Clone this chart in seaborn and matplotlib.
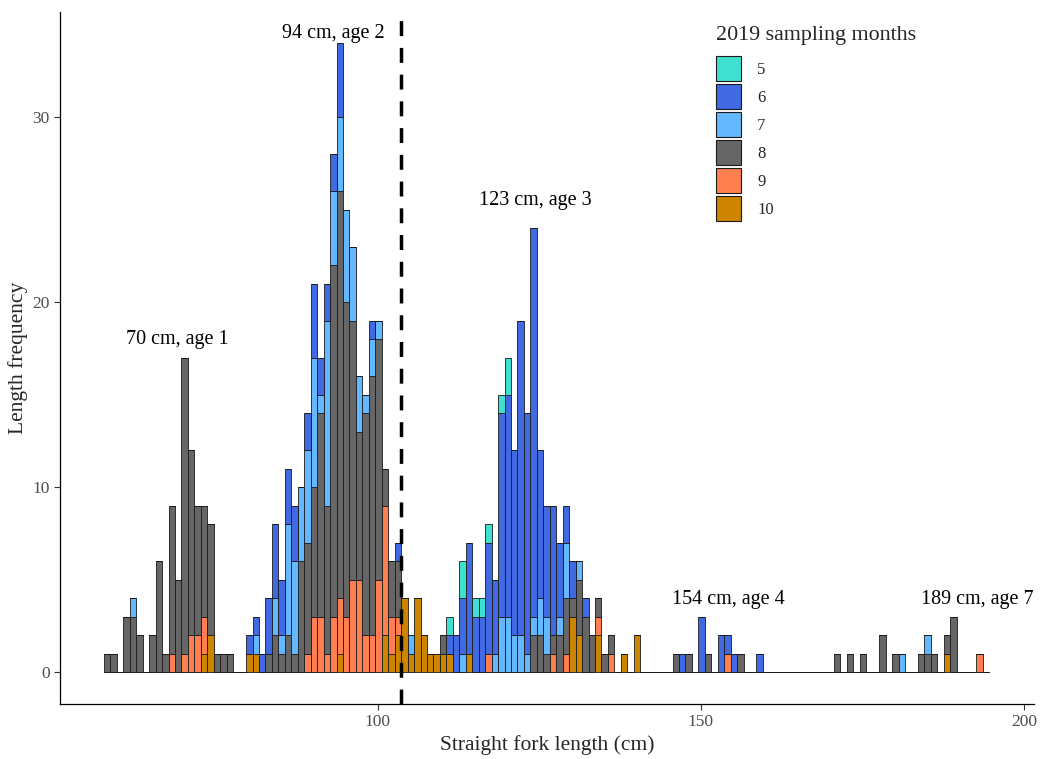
import numpy as np
import pandas as pd
import matplotlib
matplotlib.use("Agg")
import matplotlib.pyplot as plt
import seaborn as sns
from matplotlib.patches import Patch

# ---------------- data (bin = 1 cm, value = bin centre in cm) ----------------
months = ["5", "6", "7", "8", "9", "10"]
month_colors = ["#40E0D0", "#4169E1", "#63B8FF", "#666666", "#FF7F50", "#CD8500"]

len_m5 = [111, 113, 115, 116, 117, 119, 120]
cnt_m5 = [1, 2, 1, 1, 1, 1, 2]

len_m6 = [80, 81, 82, 83, 84, 85, 86, 87, 89, 90, 91, 92, 93, 94, 99, 103,
          111, 112, 113, 114, 115, 116, 117, 118, 119, 120, 121, 122, 123, 124,
          125, 126, 127, 128, 129, 130, 132, 147, 150, 153, 154, 155, 159]
cnt_m6 = [1, 1, 1, 3, 4, 3, 3, 3, 2, 4, 2, 2, 2, 4, 1, 1,
          1, 2, 3, 6, 3, 3, 6, 4, 11, 12, 10, 17, 13, 21,
          8, 6, 7, 4, 2, 2, 1, 1, 3, 2, 1, 1, 1]

len_m7 = [62, 81, 84, 85, 86, 87, 88, 89, 90, 91, 92, 93, 94, 95, 96, 97, 98,
          99, 100, 105, 113, 118, 119, 120, 121, 122, 123, 124, 125, 126, 128,
          129, 131, 181, 185]
cnt_m7 = [1, 1, 2, 1, 6, 5, 4, 5, 7, 1, 10, 4, 4, 5, 4, 3, 1,
          2, 1, 1, 1, 1, 3, 3, 2, 2, 1, 1, 2, 2, 1,
          3, 1, 1, 1]

len_m8 = [58, 59, 61, 62, 63, 65, 66, 67, 68, 69, 70, 71, 72, 73, 74, 75, 76, 77,
          83, 84, 85, 86, 87, 88, 89, 90, 91, 92, 93, 94, 95, 96, 97, 98, 99, 100,
          101, 102, 103, 110, 124, 125, 126, 127, 128, 129, 130, 131, 132, 133,
          134, 135, 136, 146, 148, 151, 156, 171, 173, 175, 178, 180, 184, 185,
          186, 188, 189]
cnt_m8 = [1, 1, 3, 3, 2, 2, 6, 1, 8, 5, 16, 10, 7, 6, 6, 1, 1, 1,
          1, 2, 1, 2, 1, 6, 6, 7, 11, 8, 19, 22, 17, 14, 8, 12, 14, 13,
          2, 3, 3, 1, 2, 2, 1, 1, 2, 3, 1, 3, 3, 2,
          1, 1, 1, 1, 1, 1, 1, 1, 1, 1, 2, 1, 1, 1,
          1, 1, 3]

len_m9 = [68, 70, 71, 72, 73, 89, 90, 91, 92, 93, 94, 95, 96, 97, 98, 99, 100,
          101, 102, 103, 117, 127, 129, 134, 136, 154, 193]
cnt_m9 = [1, 1, 2, 2, 2, 1, 3, 3, 1, 3, 3, 3, 5, 5, 2, 2, 5,
          7, 2, 1, 1, 1, 1, 1, 1, 1, 1]

len_m10 = [73, 74, 80, 81, 94, 101, 102, 103, 104, 105, 106, 107, 108, 109,
           110, 111, 114, 130, 131, 134, 138, 140, 188]
cnt_m10 = [1, 2, 1, 1, 1, 2, 1, 2, 4, 1, 4, 2, 1, 1,
           1, 1, 1, 3, 2, 2, 1, 2, 1]

annot_text = ["70 cm, age 1", "94 cm, age 2", "123 cm, age 3", "154 cm, age 4", "189 cm, age 7"]
annot_x = [69.0, 93.1, 124.3, 154.2, 192.8]
annot_y = [18.0, 34.5, 25.5, 3.9, 3.9]
cutoff_length = 103.6

# ---------------- build long table ----------------
frames = []
for m, L, C in [("5", len_m5, cnt_m5), ("6", len_m6, cnt_m6), ("7", len_m7, cnt_m7),
                ("8", len_m8, cnt_m8), ("9", len_m9, cnt_m9), ("10", len_m10, cnt_m10)]:
    frames.append(pd.DataFrame({"length": np.asarray(L, float),
                                "count": np.asarray(C, float), "month": m}))
df = pd.concat(frames, ignore_index=True)

# ---------------- plot ----------------
sns.set_style("white")
plt.rcParams["font.family"] = ["Liberation Serif", "DejaVu Serif"]

fig = plt.figure(figsize=(10.42, 7.59), dpi=100)
ax = fig.add_axes([0.0576, 0.0731, 0.9344, 0.9117])

sns.histplot(data=df, x="length", hue="month", weights="count", multiple="stack",
             binwidth=1.0, binrange=(57.6, 194.6), hue_order=months,
             palette=month_colors, alpha=1.0,
             edgecolor="#1a1a1a", linewidth=0.6, ax=ax, legend=False)

ax.axvline(cutoff_length, color="black", lw=2.5, dashes=(4.3, 3.4), zorder=5)

for t, x, y in zip(annot_text, annot_x, annot_y):
    ax.text(x, y, t, ha="center", va="center", fontsize=14.5, color="black")

ax.set_xlim(50.8, 201.5)
ax.set_ylim(-1.7, 35.7)
ax.set_xticks([100, 150, 200])
ax.set_yticks([0, 10, 20, 30])
ax.tick_params(axis="both", labelsize=12.5, labelcolor="#4D4D4D", color="#333333",
               length=4, width=0.8, direction="out", bottom=True, left=True)
ax.set_xlabel("Straight fork length (cm)", fontsize=15.5, labelpad=4)
ax.set_ylabel("Length frequency", fontsize=15.5, labelpad=3)
for s in ["top", "right"]:
    ax.spines[s].set_visible(False)
for s in ["left", "bottom"]:
    ax.spines[s].set_color("black")
    ax.spines[s].set_linewidth(0.9)
ax.grid(False)

handles = [Patch(facecolor=c, edgecolor="#1a1a1a", linewidth=0.8) for c in month_colors]
leg = ax.legend(handles, months, title="2019 sampling months", loc="upper left",
                bbox_to_anchor=(0.6705, 0.984), frameon=False, fontsize=12,
                title_fontsize=15.8, handlelength=1.5, handleheight=1.93,
                labelspacing=0.18, handletextpad=0.95, borderaxespad=0,
                borderpad=0.2)
leg._legend_box.align = "left"
leg._legend_box.sep = 8.0

fig.savefig("out.png", dpi=100)
